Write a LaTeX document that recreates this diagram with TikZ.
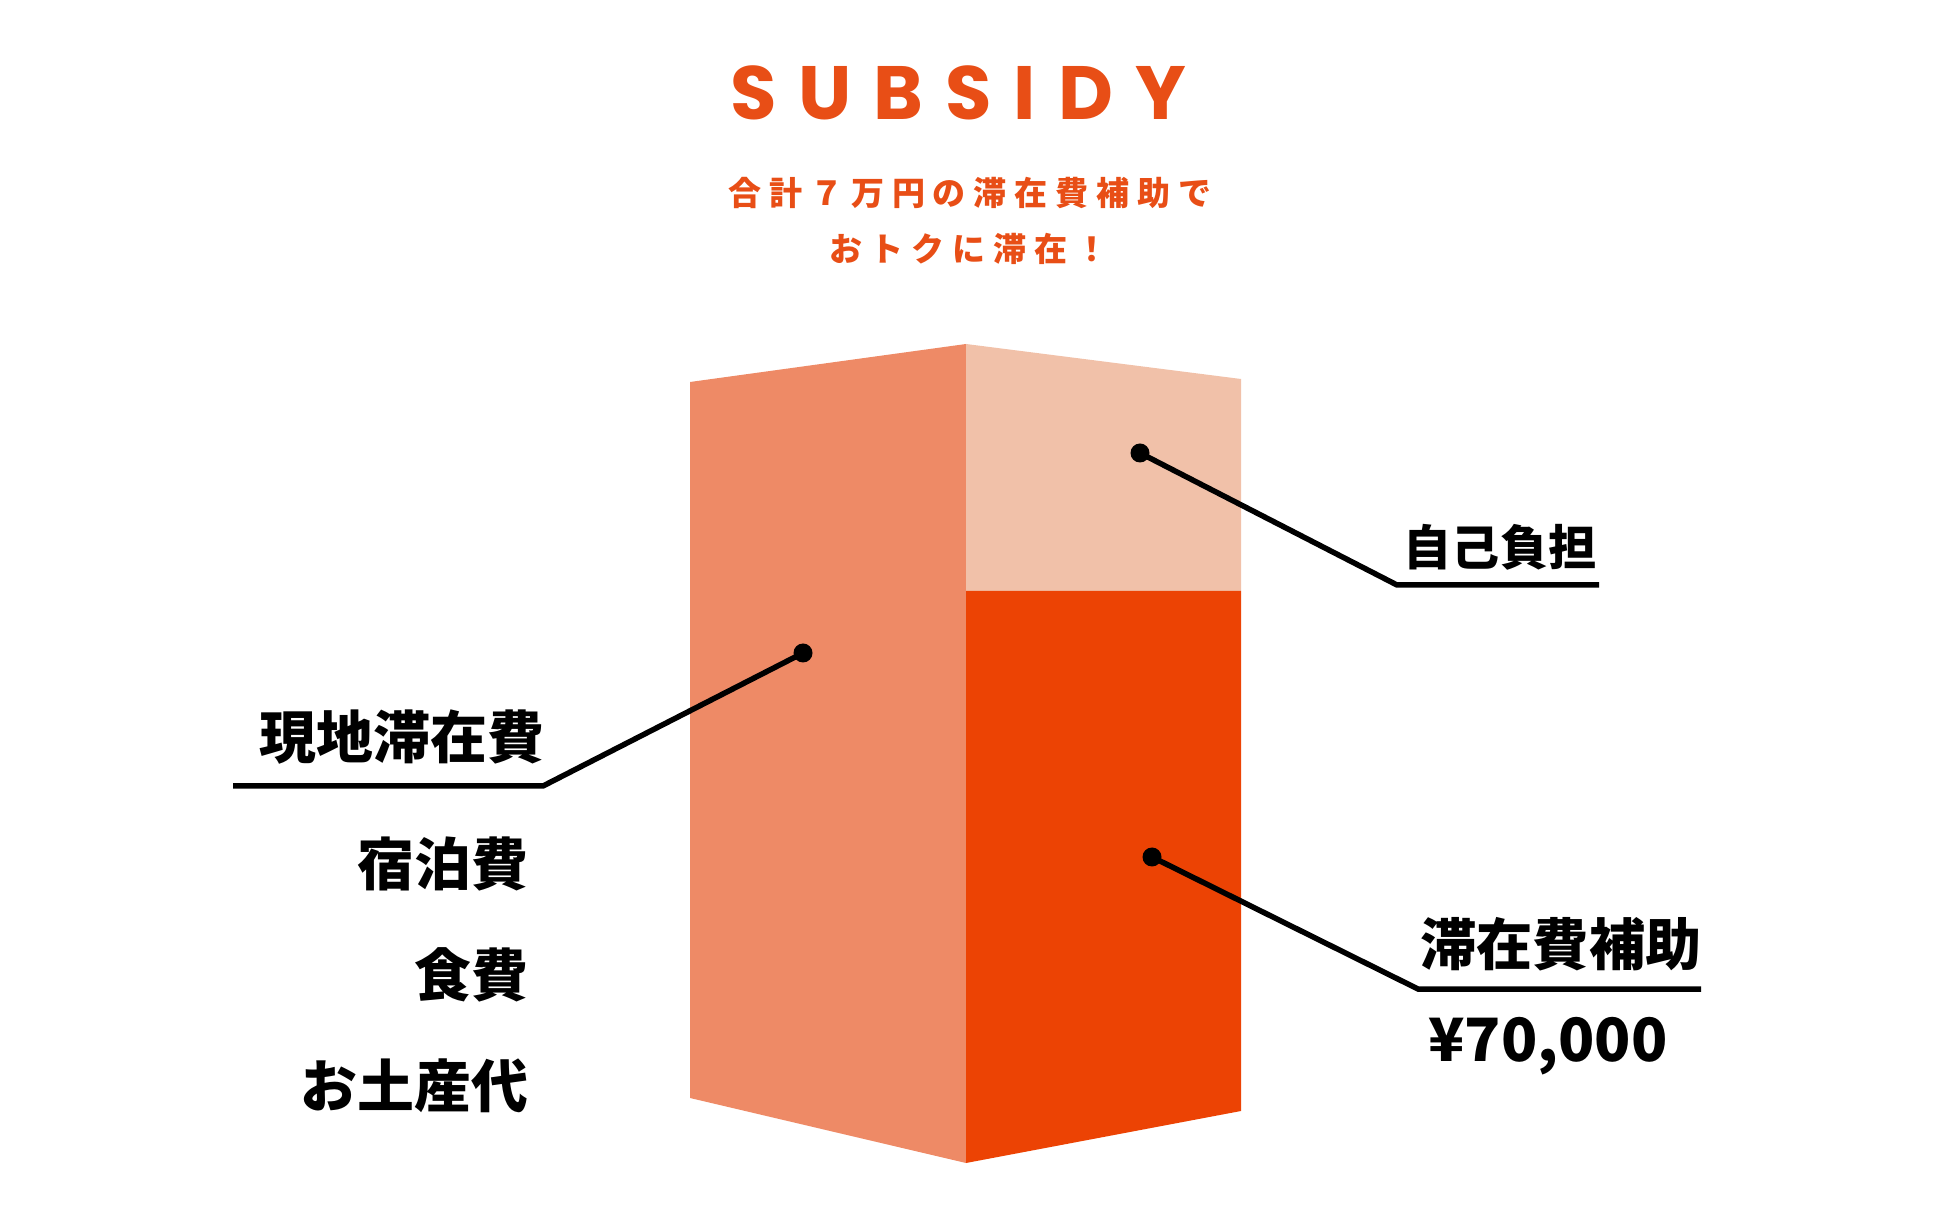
\documentclass[tikz,border=0pt]{standalone}
\usepackage{fontspec}
\setmainfont{Poppins}
\newfontfamily\jpfont{Noto Sans CJK JP}
\newfontfamily\titlefont{Poppins}[LetterSpace=29]
\newfontfamily\leadfont{Noto Sans CJK JP}[LetterSpace=24]
\definecolor{subsidyorange}{RGB}{232,78,22}
\definecolor{faceleft}{RGB}{238,138,102}
\definecolor{faceself}{RGB}{241,193,169}
\definecolor{facesub}{RGB}{236,67,4}

\begin{document}
\begin{tikzpicture}[
  x=0.1mm, y=-0.1mm,
  line width=0.55mm,
  line cap=butt, line join=miter,
  leader/.style={line width=0.55mm, black},
  every node/.style={inner sep=0pt},
  costlabel/.style={font=\jpfont\bfseries\fontsize{16.2pt}{16.2pt}\selectfont, anchor=east}
]
  \useasboundingbox (0,0) rectangle (1950,1218);
  % ---- 见出し ----
  \node (title) at (958,93) {\titlefont\bfseries\fontsize{21.5pt}{21.5pt}\selectfont\color{subsidyorange}SUBSIDY};
  \node (lead1) at (970,193) {\leadfont\bfseries\fontsize{9.4pt}{9.4pt}\selectfont\color{subsidyorange}合計７万円の滞在費補助で};
  \node (lead2) at (969,249) {\leadfont\bfseries\fontsize{9.4pt}{9.4pt}\selectfont\color{subsidyorange}おトクに滞在！};
  % ---- 箱の顶点 ----
  \coordinate (TL) at ( 690, 382);
  \coordinate (TC) at ( 966, 344);
  \coordinate (TR) at (1241, 379);
  \coordinate (ML) at ( 966, 591);
  \coordinate (MR) at (1241, 591);
  \coordinate (BL) at ( 690,1098);
  \coordinate (BC) at ( 966,1163);
  \coordinate (BR) at (1241,1111);
  % ---- 面 ----
  \fill[faceleft] (TL) -- (TC) -- (BC) -- (BL) -- cycle;
  \fill[faceself] (TC) -- (TR) -- (MR) -- (ML) -- cycle;
  \fill[facesub]  (ML) -- (MR) -- (BR) -- (BC) -- cycle;
  % ---- 引出线 ----
  \coordinate (dotSelf)   at (1140, 453);
  \coordinate (kneeSelf)  at (1397, 585);
  \coordinate (endSelf)   at (1599, 585);
  \coordinate (dotSub)    at (1152, 857);
  \coordinate (kneeSub)   at (1418, 989);
  \coordinate (endSub)    at (1701, 989);
  \coordinate (dotLocal)  at ( 803, 653);
  \coordinate (kneeLocal) at ( 543, 786);
  \coordinate (endLocal)  at ( 233, 786);
  \draw[leader] (dotSelf) -- (kneeSelf) -- (endSelf);
  \draw[leader] (dotSub) -- (kneeSub) -- (endSub);
  \draw[leader] (dotLocal) -- (kneeLocal) -- (endLocal);
  \fill (dotSelf) circle[radius=0.95mm];
  \fill (dotSub) circle[radius=0.95mm];
  \fill (dotLocal) circle[radius=0.95mm];
  % ---- 标签 ----
  \node (selfpay) at (1500,547) {\jpfont\bfseries\fontsize{13.7pt}{13.7pt}\selectfont 自己負担};
  \node (subsidy) at (1561,944) {\jpfont\bfseries\fontsize{16pt}{16pt}\selectfont 滞在費補助};
  \node (amount)  at (1548,1046) {\jpfont\bfseries\fontsize{17pt}{17pt}\selectfont ¥70,000};
  \node[costlabel] (local)    at ( 547,737) {現地滞在費};
  \node[costlabel] (lodging)  at ( 531,864) {宿泊費};
  \node[costlabel] (meals)    at ( 531,975) {食費};
  \node[costlabel] (souvenir) at ( 531,1086) {お土産代};
\end{tikzpicture}
\end{document}
